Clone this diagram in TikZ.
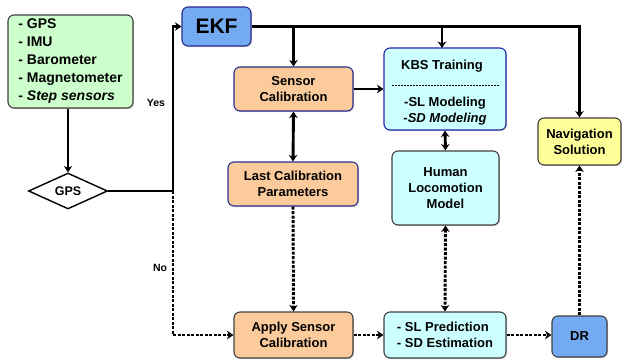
\documentclass[tikz,border=0pt]{standalone}
\usepackage{fontspec}
\setmainfont{Liberation Sans}
\usetikzlibrary{shapes.geometric,arrows.meta,shadows}
\definecolor{cgreen}{HTML}{CCFFCC}
\definecolor{corange}{HTML}{FBCB9C}
\definecolor{cblue}{HTML}{74AAF2}
\definecolor{ccyan}{HTML}{CCFFFF}
\definecolor{cyellow}{HTML}{FFFF99}
\definecolor{navy}{HTML}{2A2F8F}
\definecolor{dgray}{HTML}{404040}
\tikzset{
  box/.style={draw=dgray, line width=1.1pt, rounded corners=6pt, inner sep=0pt, align=center,
    font=\bfseries\fontsize{13}{16}\selectfont,
    drop shadow={shadow xshift=1.2pt, shadow yshift=-1.2pt, opacity=0.35}},
  conn/.style={line width=2.9pt, -{Stealth[length=6.5pt,width=8.5pt]}},
  both/.style={line width=2.9pt, {Stealth[length=6.5pt,width=8.5pt]}-{Stealth[length=6.5pt,width=8.5pt]}},
  plain/.style={line width=2.9pt},
  dotc/.style={line width=2.9pt, dash pattern=on 3pt off 1.5pt},
  lbl/.style={font=\bfseries\fontsize{10.5}{12}\selectfont, inner sep=1pt}
}
\begin{document}
\begin{tikzpicture}[x=1pt,y=-1pt]
\useasboundingbox[fill=white] (0,0) rectangle (622,361);
% nodes
\node[box, fill=cgreen, minimum width=125pt, minimum height=93pt, align=left,
      font=\bfseries\fontsize{14}{18}\selectfont] (sens) at (70.5,61.5)
  {- GPS\\- IMU\\- Barometer\\- Magnetometer\\- \textit{Step sensors}};
\node[draw=black, line width=1.4pt, diamond, aspect=2.2, inner sep=0pt,
      minimum width=79pt, minimum height=36pt, font=\bfseries\fontsize{12.5}{14}\selectfont] (gps) at (68,191) {GPS};
\node[box, fill=cblue, draw=navy, minimum width=69pt, minimum height=39pt,
      font=\bfseries\fontsize{21}{24}\selectfont] (ekf) at (216.5,26.5) {EKF};
\node[box, fill=corange, draw=navy, minimum width=119pt, minimum height=44pt] (scal) at (293.5,89) {Sensor\\Calibration};
\node[box, fill=ccyan, draw=navy!80!blue, minimum width=122pt, minimum height=82pt] (kbs) at (445,89) {};
\node[font=\bfseries\fontsize{13}{16}\selectfont, inner sep=0pt] (kbst) at (442,66) {KBS Training};
\node[font=\bfseries\fontsize{13}{16}\selectfont, inner sep=0pt, align=center] (kbsm) at (445,111.5) {-SL Modeling\\-\textit{SD Modeling}};
\coordinate (dl) at (392,86);
\coordinate (dr2) at (500,86);
\draw[line width=1pt, dash pattern=on 2pt off 1pt] (dl) -- (dr2);
\node[box, fill=cyellow, minimum width=83pt, minimum height=47pt] (nav) at (579.5,141.5) {Navigation\\Solution};
\node[box, fill=corange, draw=navy, minimum width=130pt, minimum height=44pt] (lcal) at (293,184) {Last Calibration\\Parameters};
\node[box, fill=ccyan, minimum width=107pt, minimum height=74pt] (hum) at (445.5,188) {Human\\Locomotion\\Model};
\node[box, fill=corange, minimum width=119pt, minimum height=46pt] (apply) at (293.5,335) {Apply Sensor\\Calibration};
\node[box, fill=ccyan, minimum width=122pt, minimum height=46pt, align=left] (slp) at (445,335) {- SL Prediction\\- SD Estimation};
\node[box, fill=cblue, minimum width=55pt, minimum height=41pt] (dr) at (579.5,336.5) {DR};
% junction
\coordinate (j) at (173,191);
% connectors
\draw[conn] (sens.south -| gps.north) -- (gps.north);
\draw[plain] (gps.east) -- (j);
\draw[conn] (j) |- (ekf.west);
\node[lbl] (yes) at (156,103) {Yes};
\draw[dotc, -{Stealth[length=6.5pt,width=8.5pt]}] (j) |- (apply.west);
\node[lbl] (no) at (160,268) {No};
\draw[conn] (ekf.east) -| (nav.north);
\draw[conn] (scal.north |- ekf.east) -- (scal.north);
\draw[conn] (442,26.5) -- (442,48);
\draw[conn] (scal.east) -- (kbs.west |- scal.east);
\draw[both] (scal.south) -- (lcal.north);
\draw[both] (kbs.south) -- (hum.north);
\draw[dotc, -{Stealth[length=6.5pt,width=8.5pt]}] (lcal.south) -- (apply.north);
\draw[dotc, {Stealth[length=6.5pt,width=8.5pt]}-{Stealth[length=6.5pt,width=8.5pt]}] (hum.south) -- (slp.north);
\draw[dotc, -{Stealth[length=6.5pt,width=8.5pt]}] (apply.east) -- (slp.west);
\draw[dotc, -{Stealth[length=6.5pt,width=8.5pt]}] (slp.east) -- (dr.west |- slp.east);
\draw[dotc, -{Stealth[length=6.5pt,width=8.5pt]}] (dr.north) -- (nav.south);
\end{tikzpicture}
\end{document}
